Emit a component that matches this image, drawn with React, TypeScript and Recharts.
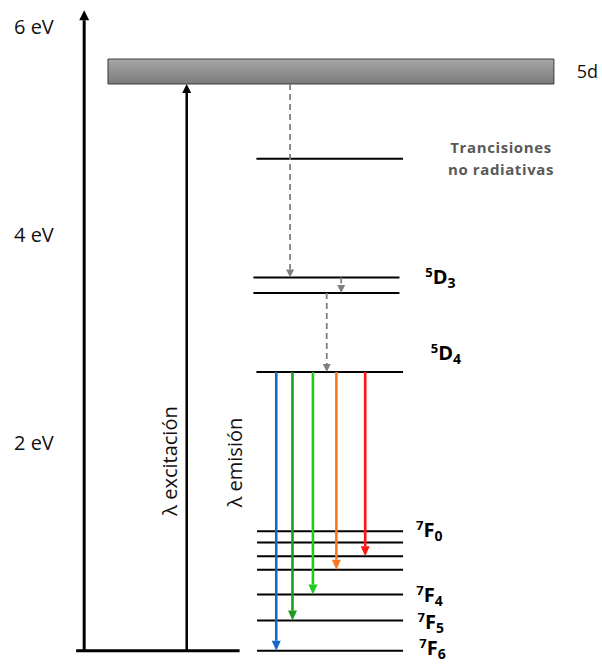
import React from 'react';
import {
  ComposedChart,
  Line,
  XAxis,
  YAxis,
  ReferenceLine,
  ReferenceArea,
  ReferenceDot,
} from 'recharts';

// ---- data (energies in eV) ----
const energyTicks = [2, 4, 6];
const energyUnit = 'eV';

const band5dLow = 5.45;
const band5dHigh = 5.69;
const band5dName = '5d';

const upperLevel = 4.73;
const levels5D3 = [3.59, 3.44];
const level5D4 = 2.68;
const levels7F = [1.15, 1.04, 0.91, 0.78, 0.54, 0.29, 0];

// radiative transitions 5D4 -> 7FJ (target energies)
const emissionTargets = [0, 0.29, 0.54, 0.78, 0.91];

// non-radiative relaxation steps
const relaxFrom = [5.45, 3.59, 3.44];
const relaxTo = [3.59, 3.44, 2.68];

const axisTop = 6.16;

const levelNames = [
  { sup: '5', main: 'D', sub: '3', e: 3.59 },
  { sup: '5', main: 'D', sub: '4', e: 2.86 },
  { sup: '7', main: 'F', sub: '0', e: 1.16 },
  { sup: '7', main: 'F', sub: '4', e: 0.54 },
  { sup: '7', main: 'F', sub: '5', e: 0.28 },
  { sup: '7', main: 'F', sub: '6', e: 0.03 },
];

const noteLines = ['Trancisiones', 'no radiativas'];
const noteLineE = [4.835, 4.63];
const exciteLabel = 'λ excitación';
const emitLabel = 'λ emisión';

// ---- layout (horizontal diagram units, 0–100) ----
const X = {
  axis: 13.84,
  baseL: 12.5,
  baseR: 39.7,
  excite: 30.9,
  bandL: 17.8,
  bandR: 92.0,
  levelL: 42.5,
  levelR: 66.9,
  d3L: 42.0,
  d3R: 66.3,
  bandText: 95.8,
  note: 83.2,
  exciteText: 28.1,
  emitText: 38.9,
};
const emissionX = [45.8, 48.5, 51.9, 55.8, 60.6];
const emissionColors = ['#1467C8', '#1E9B22', '#1FCB1F', '#FF761A', '#FF1414'];
const relaxX = [48.1, 56.6, 54.2];
const nameX = [70.6, 71.5, 69.05, 69.1, 69.3, 69.6];

const FONT = '"Open Sans", sans-serif';

// each level is a horizontal two-point series
type Level = { id: string; e: number; x1: number; x2: number };
const levelSeries: Level[] = [
  { id: 'up', e: upperLevel, x1: X.levelL, x2: X.levelR },
  ...levels5D3.map((e, i) => ({ id: `d3-${i}`, e, x1: X.d3L, x2: X.d3R })),
  { id: 'd4', e: level5D4, x1: X.levelL, x2: X.levelR },
  ...levels7F.map((e, i) => ({ id: `f-${i}`, e, x1: X.levelL + 0.1, x2: X.levelR })),
];

const arrowShape =
  (color: string, width: number, headW: number, headL: number, dash?: string) =>
  (p: any) => {
    const { x1, y1, x2, y2 } = p;
    const dx = x2 - x1;
    const dy = y2 - y1;
    const len = Math.hypot(dx, dy) || 1;
    const ux = dx / len;
    const uy = dy / len;
    const bx = x2 - ux * headL;
    const by = y2 - uy * headL;
    const px = (-uy * headW) / 2;
    const py = (ux * headW) / 2;
    return (
      <g>
        <line
          x1={x1}
          y1={y1}
          x2={bx}
          y2={by}
          stroke={color}
          strokeWidth={width}
          strokeDasharray={dash}
        />
        <polygon
          points={`${x2},${y2} ${bx + px},${by + py} ${bx - px},${by - py}`}
          fill={color}
        />
      </g>
    );
  };

const EnergyTick = (props: any) => {
  const { y, payload } = props;
  return (
    <text x={14} y={y} dy="0.355em" fontFamily={FONT} fontSize={20} fill="#111">
      {`${payload.value} ${energyUnit}`}
    </text>
  );
};

export default function App() {
  return (
    <div style={{ position: 'absolute', left: 0, top: 0 }}>
      <ComposedChart
        width={602}
        height={665}
        margin={{ top: 6, right: 0, bottom: 8, left: 0 }}
      >
        <defs>
          <linearGradient id="band5d" x1="0" y1="0" x2="0" y2="1">
            <stop offset="0%" stopColor="#a8a8a8" />
            <stop offset="100%" stopColor="#7a7a7a" />
          </linearGradient>
        </defs>
        <XAxis type="number" dataKey="x" domain={[0, 100]} hide allowDataOverflow />
        <YAxis
          type="number"
          domain={[-0.06, 6.2]}
          ticks={energyTicks}
          width={1}
          axisLine={false}
          tickLine={false}
          tick={<EnergyTick />}
          allowDataOverflow
        />

        {/* energy axis and ground line */}
        <ReferenceLine
          segment={[
            { x: X.axis, y: 0 },
            { x: X.axis, y: axisTop },
          ]}
          shape={arrowShape('#000', 3, 10, 10)}
        />
        <ReferenceLine
          segment={[
            { x: X.baseL, y: 0 },
            { x: X.baseR, y: 0 },
          ]}
          stroke="#000"
          strokeWidth={3}
        />

        {/* 5d band */}
        <ReferenceArea
          x1={X.bandL}
          x2={X.bandR}
          y1={band5dLow}
          y2={band5dHigh}
          fill="url(#band5d)"
          fillOpacity={1}
          stroke="#3a3a3a"
          strokeWidth={1}
        />

        {/* excitation */}
        <ReferenceLine
          segment={[
            { x: X.excite, y: 0 },
            { x: X.excite, y: band5dLow },
          ]}
          shape={arrowShape('#000', 2.5, 9, 9)}
        />

        {/* discrete levels */}
        {levelSeries.map((lv) => (
          <Line
            key={lv.id}
            data={[
              { x: lv.x1, e: lv.e },
              { x: lv.x2, e: lv.e },
            ]}
            dataKey="e"
            stroke="#000"
            strokeWidth={2}
            dot={false}
            activeDot={false}
            isAnimationActive={false}
          />
        ))}

        {/* non-radiative relaxation */}
        {relaxFrom.map((e, i) => (
          <ReferenceLine
            key={`nr-${i}`}
            segment={[
              { x: relaxX[i], y: e },
              { x: relaxX[i], y: relaxTo[i] },
            ]}
            shape={arrowShape('#808080', 1.8, 8, 8, '6 4')}
          />
        ))}

        {/* emission */}
        {emissionTargets.map((e, i) => (
          <ReferenceLine
            key={`em-${i}`}
            segment={[
              { x: emissionX[i], y: level5D4 },
              { x: emissionX[i], y: e },
            ]}
            shape={arrowShape(emissionColors[i], 2.6, 9, 10)}
          />
        ))}

        {/* level names */}
        {levelNames.map((n, i) => (
          <ReferenceDot
            key={`name-${i}`}
            x={nameX[i]}
            y={n.e}
            r={0}
            ifOverflow="visible"
            shape={(p: any) => (
              <text
                x={p.cx}
                y={p.cy + 7}
                fontFamily={FONT}
                fontWeight={700}
                fill="#000"
              >
                <tspan fontSize={13} dy={-7}>
                  {n.sup}
                </tspan>
                <tspan fontSize={20} dy={7}>
                  {n.main}
                </tspan>
                <tspan fontSize={14} dy={4}>
                  {n.sub}
                </tspan>
              </text>
            )}
          />
        ))}

        {/* band name */}
        <ReferenceDot
          x={X.bandText}
          y={(band5dLow + band5dHigh) / 2}
          r={0}
          shape={(p: any) => (
            <text x={p.cx} y={p.cy} dy="0.355em" fontFamily={FONT} fontSize={18} fill="#111">
              {band5dName}
            </text>
          )}
        />

        {/* note, one line per text */}
        {noteLines.map((line, i) => (
          <ReferenceDot
            key={`note-${i}`}
            x={X.note}
            y={noteLineE[i]}
            r={0}
            shape={(p: any) => (
              <text
                x={p.cx}
                y={p.cy}
                dy="0.355em"
                textAnchor="middle"
                fontFamily={FONT}
                fontWeight={700}
                fontSize={15}
                letterSpacing={0.6}
                fill="#595959"
              >
                {line}
              </text>
            )}
          />
        ))}

        {/* vertical captions */}
        <ReferenceDot
          x={X.exciteText}
          y={1.825}
          r={0}
          shape={(p: any) => (
            <text
              x={p.cx}
              y={p.cy}
              transform={`rotate(-90 ${p.cx} ${p.cy})`}
              textAnchor="middle"
              dy="0.355em"
              fontFamily={FONT}
              fontSize={20}
              fill="#111"
            >
              {exciteLabel}
            </text>
          )}
        />
        <ReferenceDot
          x={X.emitText}
          y={1.81}
          r={0}
          shape={(p: any) => (
            <text
              x={p.cx}
              y={p.cy}
              transform={`rotate(-90 ${p.cx} ${p.cy})`}
              textAnchor="middle"
              dy="0.355em"
              fontFamily={FONT}
              fontSize={20}
              fill="#111"
            >
              {emitLabel}
            </text>
          )}
        />
      </ComposedChart>
    </div>
  );
}
